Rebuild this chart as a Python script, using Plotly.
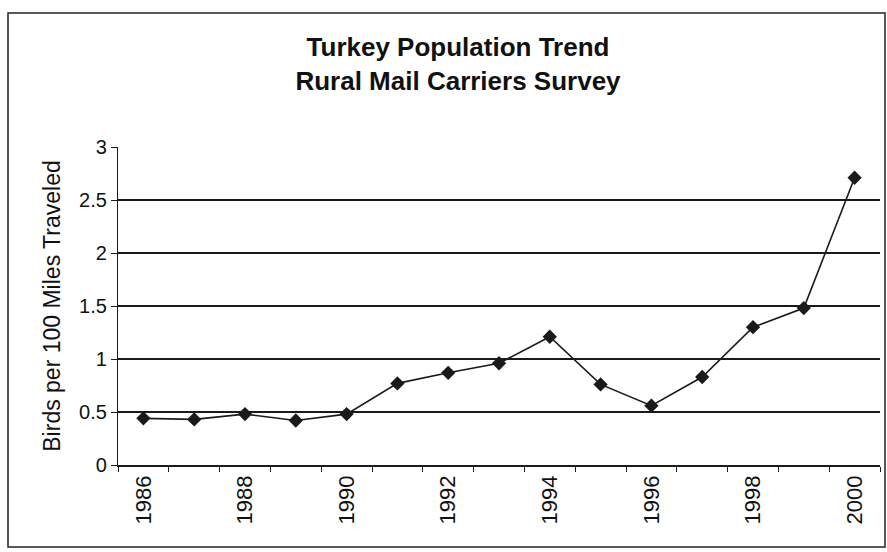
import plotly.graph_objects as go

years = list(range(1986, 2001))
birds = [0.44, 0.43, 0.48, 0.42, 0.48, 0.77, 0.87, 0.96, 1.21, 0.76, 0.56, 0.83, 1.30, 1.48, 2.71]
x_tick_labels = [1986, 1988, 1990, 1992, 1994, 1996, 1998, 2000]
y_tick_vals = [0, 0.5, 1, 1.5, 2, 2.5, 3]
y_grid_vals = [0.5, 1, 1.5, 2, 2.5]

L, R, T, B = 118, 7, 147, 87
W, H = 887, 552
pw, ph = W - L - R, H - T - B

def px(x):
    return (x - L) / pw

def py(y):
    return (H - B - y) / ph

fig = go.Figure()
fig.add_trace(go.Scatter(
    x=years, y=birds, mode="lines+markers",
    line=dict(color="#1a1a1a", width=1.6),
    marker=dict(symbol="diamond", size=11, color="#1a1a1a"),
    showlegend=False,
))

fig.update_layout(
    width=W, height=H,
    margin=dict(l=L, r=R, t=T, b=B),
    paper_bgcolor="white", plot_bgcolor="white",
    font=dict(family="Liberation Sans, Arial, sans-serif", color="#111111"),
    title=dict(
        text="<b>Turkey Population Trend</b><br><b>Rural Mail Carriers Survey</b>",
        x=458 / W, xanchor="center", y=1 - 56 / H, yanchor="middle",
        font=dict(size=26, family="Liberation Sans, Arial, sans-serif", color="#111111"),
    ),
    xaxis=dict(
        range=[1985.5, 2000.5],
        tickvals=x_tick_labels,
        ticktext=[str(v) for v in x_tick_labels],
        tickangle=-90,
        ticks="",
        tickfont=dict(size=22),
        showgrid=False,
        showline=True, linecolor="#1a1a1a", linewidth=1.5,
        zeroline=False,
        minor=dict(tick0=1985.5, dtick=1, ticks="outside", ticklen=5, tickcolor="#1a1a1a", showgrid=False),
    ),
    yaxis=dict(
        range=[0, 3],
        tickvals=y_tick_vals,
        ticktext=[str(v) for v in y_tick_vals],
        ticks="outside", ticklen=6, tickcolor="#1a1a1a",
        tickfont=dict(size=20),
        showgrid=False,
        showline=True, linecolor="#1a1a1a", linewidth=1.2,
        zeroline=False,
        title=dict(text="Birds per 100 Miles Traveled", font=dict(size=23), standoff=12),
        minor=dict(tickvals=y_grid_vals, showgrid=True, gridcolor="#1a1a1a", gridwidth=1.5, ticks=""),
    ),
)

fig.add_shape(
    type="rect", xref="paper", yref="paper",
    x0=px(8), x1=px(885), y0=py(547), y1=py(13),
    line=dict(color="#222222", width=1.5), fillcolor="rgba(0,0,0,0)", layer="below",
)

fig.write_html("out.html")
